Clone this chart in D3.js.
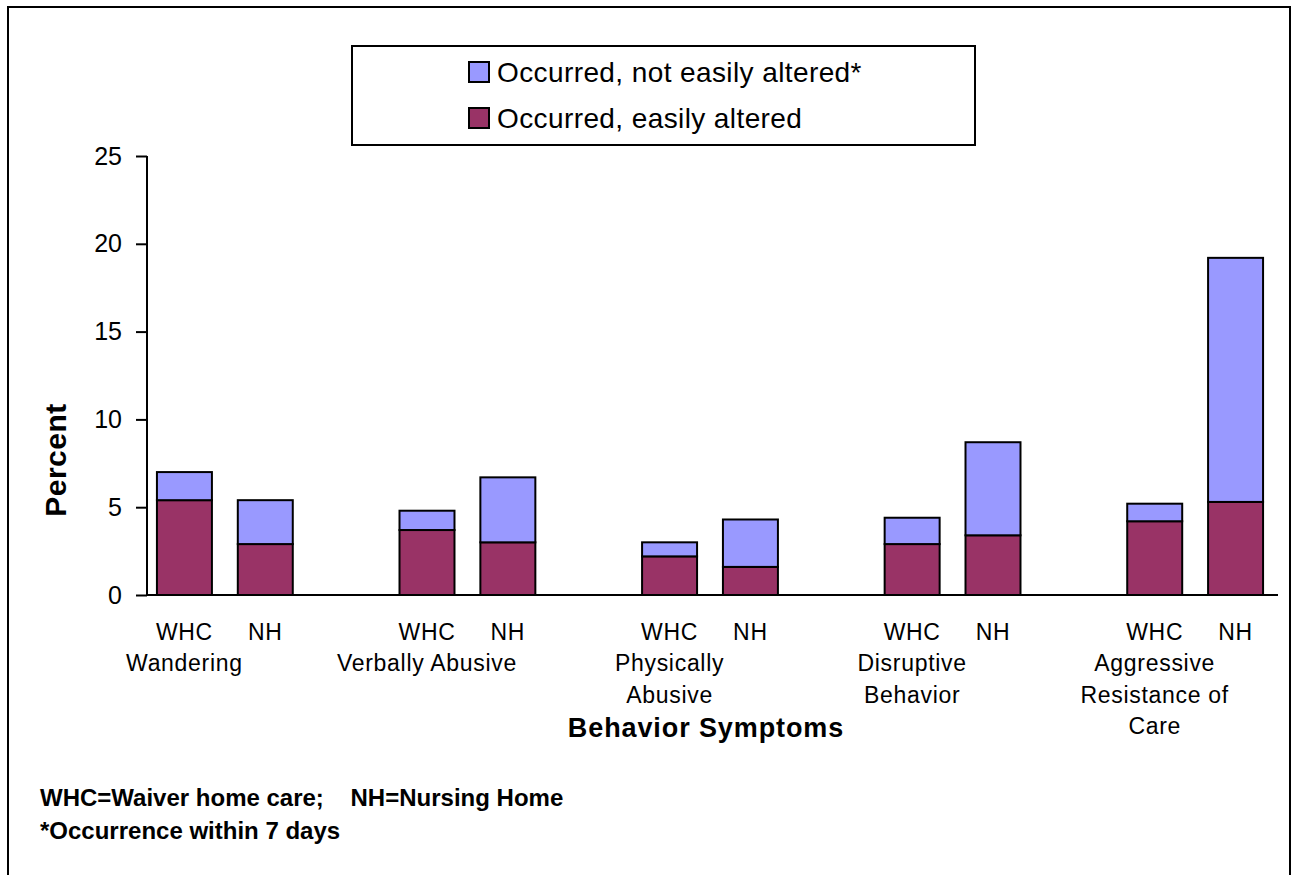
<!DOCTYPE html>
<html>
<head>
<meta charset="utf-8">
<script src="https://cdn.jsdelivr.net/npm/d3@7"></script>
<style>
  html, body { margin: 0; padding: 0; background: #fff; }
  svg text { font-family: "Liberation Sans", Arial, sans-serif; fill: #000; }
</style>
</head>
<body>
<svg id="chart" width="1292" height="875"></svg>
<script>
// ---- data ----
const groups = ["Wandering", "Verbally Abusive", "Physically Abusive", "Disruptive Behavior", "Aggressive Resistance of Care"];
const groupLabelLines = [["Wandering"], ["Verbally Abusive"], ["Physically", "Abusive"], ["Disruptive", "Behavior"], ["Aggressive", "Resistance of", "Care"]];
const settings = ["WHC", "NH"];
const seriesNames = ["Occurred, easily altered", "Occurred, not easily altered*"];
// values per group, [WHC, NH]
const easilyAltered    = [[5.4, 2.9], [3.7, 3.0], [2.2, 1.6], [2.9, 3.4], [4.2, 5.3]];
const notEasilyAltered = [[1.6, 2.5], [1.1, 3.7], [0.8, 2.7], [1.5, 5.3], [1.0, 13.9]];
const yTicks = [0, 5, 10, 15, 20, 25];
const yTitle = "Percent";
const xTitle = "Behavior Symptoms";
const footnotes = ["WHC=Waiver home care;\u00A0\u00A0\u00A0\u00A0NH=Nursing Home", "*Occurrence within 7 days"];
const colors = { easily: "#993366", notEasily: "#9999FF" };

// ---- slots: WHC, NH, gap for each group (last gap dropped) ----
const slots = [];
groups.forEach((g, gi) => {
  settings.forEach((s, si) => slots.push({ key: gi + "-" + s, gi, si, setting: s }));
  if (gi < groups.length - 1) slots.push({ key: gi + "-gap", gi, si: -1 });
});

const svg = d3.select("#chart");

// outer border
svg.append("rect").attr("x", 8).attr("y", 7).attr("width", 1282).attr("height", 880)
  .attr("fill", "none").attr("stroke", "#000").attr("stroke-width", 2);

const x = d3.scaleBand().domain(slots.map(d => d.key)).range([144, 1276])
  .paddingInner(0.32).paddingOuter(0.16);
const y = d3.scaleLinear().domain([0, 25]).range([595, 156]);

// bars
const barData = [];
groups.forEach((g, gi) => settings.forEach((s, si) => {
  const e = easilyAltered[gi][si], n = notEasilyAltered[gi][si];
  barData.push({ key: gi + "-" + s, y0: 0, y1: e, c: colors.easily });
  barData.push({ key: gi + "-" + s, y0: e, y1: e + n, c: colors.notEasily });
}));
svg.append("g").selectAll("rect").data(barData).join("rect")
  .attr("x", d => x(d.key))
  .attr("width", x.bandwidth())
  .attr("y", d => y(d.y1))
  .attr("height", d => y(d.y0) - y(d.y1))
  .attr("fill", d => d.c)
  .attr("stroke", "#000").attr("stroke-width", 2);

// y axis
const yAxis = d3.axisLeft(y).tickValues(yTicks).tickSize(11).tickPadding(14).tickFormat(d3.format("d"));
const gy = svg.append("g").attr("transform", "translate(147,0)").call(yAxis);
gy.select(".domain").attr("stroke", "#000").attr("stroke-width", 2).attr("d", `M0,${y(25)}V${y(0)}`);
gy.selectAll(".tick line").attr("stroke", "#000").attr("stroke-width", 2);
gy.selectAll(".tick text").attr("font-size", 25).attr("font-family", "Liberation Sans, Arial, sans-serif").attr("fill", "#000");

// x baseline
svg.append("line").attr("x1", 147).attr("x2", x.range()[1] + 2).attr("y1", y(0)).attr("y2", y(0))
  .attr("stroke", "#000").attr("stroke-width", 2);

// x labels: setting labels
const catG = svg.append("g");
slots.filter(d => d.si >= 0).forEach(d => {
  catG.append("text").attr("x", x(d.key) + x.bandwidth() / 2).attr("y", 640)
    .attr("text-anchor", "middle").attr("font-size", 23).attr("letter-spacing", 0.7)
    .text(d.setting);
});
// group labels (centered under WHC bar)
groups.forEach((g, gi) => {
  const cx = x(gi + "-WHC") + x.bandwidth() / 2;
  groupLabelLines[gi].forEach((line, li) => {
    catG.append("text").attr("x", cx).attr("y", 671 + li * 31.5)
      .attr("text-anchor", "middle").attr("font-size", 23).attr("letter-spacing", 0.7)
      .text(line);
  });
});

// axis titles
svg.append("text").attr("x", 706).attr("y", 737).attr("text-anchor", "middle")
  .attr("font-size", 27).attr("font-weight", "bold").attr("letter-spacing", 0.9).text(xTitle);
svg.append("text").attr("transform", "translate(66,460) rotate(-90)").attr("text-anchor", "middle")
  .attr("font-size", 30).attr("font-weight", "bold").attr("letter-spacing", 0.5).text(yTitle);

// legend
const lg = svg.append("g");
lg.append("rect").attr("x", 352).attr("y", 46).attr("width", 623).attr("height", 99)
  .attr("fill", "#fff").attr("stroke", "#000").attr("stroke-width", 2);
const legendItems = [
  { name: seriesNames[1], c: colors.notEasily },
  { name: seriesNames[0], c: colors.easily }
];
legendItems.forEach((d, i) => {
  const cy = 72 + i * 46;
  lg.append("rect").attr("x", 469).attr("y", cy - 10).attr("width", 20).attr("height", 20)
    .attr("fill", d.c).attr("stroke", "#000").attr("stroke-width", 2);
  lg.append("text").attr("x", 497).attr("y", cy + 10).attr("font-size", 28).attr("letter-spacing", 0.4).text(d.name);
});

// footnotes
footnotes.forEach((t, i) => {
  svg.append("text").attr("x", 40).attr("y", 806 + i * 33)
    .attr("font-size", 24).attr("font-weight", "bold").text(t);
});
</script>
</body>
</html>
